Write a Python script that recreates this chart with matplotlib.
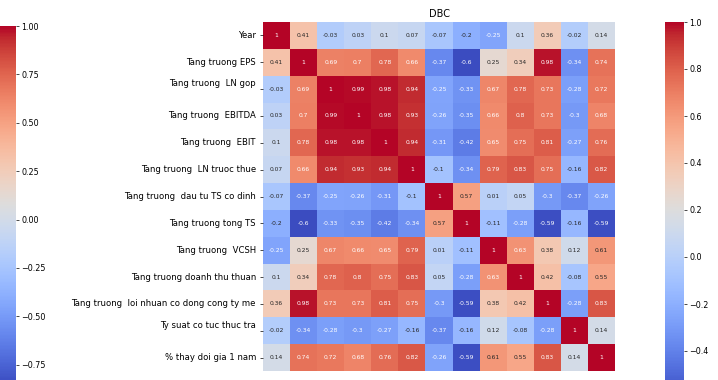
import numpy as np
import matplotlib
matplotlib.use("Agg")
import matplotlib.pyplot as plt
import seaborn as sns
from matplotlib.colors import Normalize
from matplotlib.cm import ScalarMappable

labels = [
    "Year",
    "Tang truong EPS",
    "Tang truong  LN gop\n",
    "Tang truong  EBITDA",
    "Tang truong  EBIT",
    "Tang truong  LN truoc thue",
    "Tang truong  dau tu TS co dinh",
    "Tang truong tong TS",
    "Tang truong  VCSH",
    "Tang truong doanh thu thuan",
    "Tang truong  loi nhuan co dong cong ty me",
    "Ty suat co tuc thuc tra\n",
    "% thay doi gia 1 nam",
]

row_year = [1, 0.41, -0.03, 0.03, 0.1, 0.07, -0.07, -0.2, -0.25, 0.1, 0.36, -0.02, 0.14]
row_eps = [0.41, 1, 0.69, 0.7, 0.78, 0.66, -0.37, -0.6, 0.25, 0.34, 0.98, -0.34, 0.74]
row_ln_gop = [-0.03, 0.69, 1, 0.99, 0.98, 0.94, -0.25, -0.33, 0.67, 0.78, 0.73, -0.28, 0.72]
row_ebitda = [0.03, 0.7, 0.99, 1, 0.98, 0.93, -0.26, -0.35, 0.66, 0.8, 0.73, -0.3, 0.68]
row_ebit = [0.1, 0.78, 0.98, 0.98, 1, 0.94, -0.31, -0.42, 0.65, 0.75, 0.81, -0.27, 0.76]
row_ln_truoc_thue = [0.07, 0.66, 0.94, 0.93, 0.94, 1, -0.1, -0.34, 0.79, 0.83, 0.75, -0.16, 0.82]
row_dau_tu = [-0.07, -0.37, -0.25, -0.26, -0.31, -0.1, 1, 0.57, 0.01, 0.05, -0.3, -0.37, -0.26]
row_tong_ts = [-0.2, -0.6, -0.33, -0.35, -0.42, -0.34, 0.57, 1, -0.11, -0.28, -0.59, -0.16, -0.59]
row_vcsh = [-0.25, 0.25, 0.67, 0.66, 0.65, 0.79, 0.01, -0.11, 1, 0.63, 0.38, 0.12, 0.61]
row_doanh_thu = [0.1, 0.34, 0.78, 0.8, 0.75, 0.83, 0.05, -0.28, 0.63, 1, 0.42, -0.08, 0.55]
row_loi_nhuan = [0.36, 0.98, 0.73, 0.73, 0.81, 0.75, -0.3, -0.59, 0.38, 0.42, 1, -0.28, 0.83]
row_ty_suat = [-0.02, -0.34, -0.28, -0.3, -0.27, -0.16, -0.37, -0.16, 0.12, -0.08, -0.28, 1, 0.14]
row_gia = [0.14, 0.74, 0.72, 0.68, 0.76, 0.82, -0.26, -0.59, 0.61, 0.55, 0.83, 0.14, 1]

corr = np.array([
    row_year, row_eps, row_ln_gop, row_ebitda, row_ebit, row_ln_truoc_thue,
    row_dau_tu, row_tong_ts, row_vcsh, row_doanh_thu, row_loi_nhuan,
    row_ty_suat, row_gia,
])

title = "DBC"
# colour range of the neighbouring panel's colourbar on the left
prev_vmin, prev_vmax = -0.85, 1.0
prev_ticks = [-0.75, -0.5, -0.25, 0.0, 0.25, 0.5, 0.75, 1.0]

W, H = 718, 380
fig = plt.figure(figsize=(W / 100, H / 100), dpi=100)

def px_axes(x, y_top, w, h):
    return fig.add_axes([x / W, 1 - (y_top + h) / H, w / W, h / H])

ax = px_axes(263, 22, 352, 349)
cax = px_axes(665, 22, 19, 376)
lcax = px_axes(-3, 26, 19, 358)

sns.heatmap(corr, annot=True, fmt=".2g", cmap="coolwarm", ax=ax, cbar_ax=cax,
            annot_kws={"size": 4.3}, xticklabels=False, yticklabels=labels)
ax.set_title(title, fontsize=7, pad=3.6)
ax.tick_params(axis="y", labelsize=6.1, length=2.5, width=0.5, pad=2.6)
ax.tick_params(axis="x", length=0)

cax.tick_params(labelsize=5.8, length=2, width=0.5, pad=2)
cax.set_yticks([-0.4, -0.2, 0.0, 0.2, 0.4, 0.6, 0.8, 1.0])

sm = ScalarMappable(norm=Normalize(prev_vmin, prev_vmax), cmap="coolwarm")
cb = fig.colorbar(sm, cax=lcax)
cb.outline.set_visible(False)
cb.set_ticks(prev_ticks)
cb.set_ticklabels(["%.2f" % t if t >= 0 else "\u2212%.2f" % -t for t in prev_ticks])
lcax.tick_params(labelsize=5.8, length=2, width=0.5, pad=2)

fig.savefig("out.png", dpi=100)
